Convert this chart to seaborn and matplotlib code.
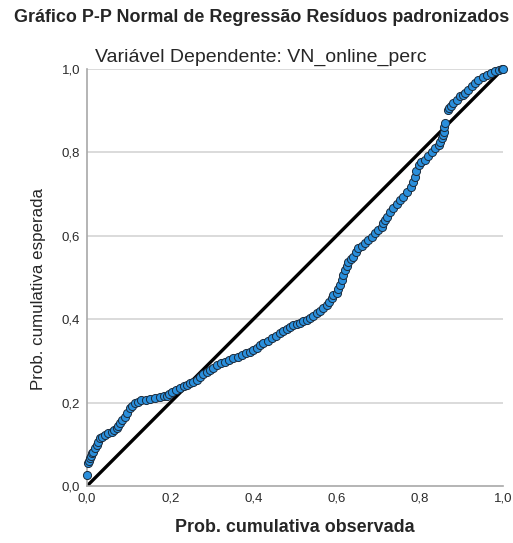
import matplotlib
matplotlib.use("Agg")
import matplotlib.pyplot as plt
import seaborn as sns
import pandas as pd

# ── Data ──────────────────────────────────────────────────────────────────
obs_prob = [
    0.000, 0.003, 0.005, 0.007, 0.010, 0.013, 0.015, 0.019, 0.023, 0.027,
    0.031, 0.037, 0.043, 0.051, 0.059, 0.065, 0.071, 0.075, 0.079, 0.085,
    0.091, 0.097, 0.103, 0.109, 0.115, 0.123, 0.131, 0.141, 0.151, 0.163,
    0.175, 0.184, 0.192, 0.198, 0.204, 0.214, 0.224, 0.232, 0.240, 0.248,
    0.256, 0.264, 0.272, 0.280, 0.288, 0.296, 0.304, 0.312, 0.322, 0.332,
    0.342, 0.352, 0.362, 0.372, 0.382, 0.392, 0.400, 0.408, 0.416, 0.424,
    0.434, 0.444, 0.454, 0.464, 0.472, 0.480, 0.488, 0.496, 0.504, 0.512,
    0.520, 0.528, 0.536, 0.544, 0.552, 0.560, 0.568, 0.576, 0.582, 0.588,
    0.592, 0.600, 0.604, 0.608, 0.612, 0.616, 0.620, 0.624, 0.628, 0.634,
    0.640, 0.646, 0.652, 0.660, 0.668, 0.676, 0.684, 0.692, 0.700, 0.708,
    0.712, 0.716, 0.720, 0.728, 0.736, 0.744, 0.752, 0.760, 0.769, 0.778,
    0.784, 0.788, 0.792, 0.797, 0.804, 0.812, 0.820, 0.829, 0.837, 0.845,
    0.849, 0.853, 0.855, 0.857, 0.859, 0.861, 0.867, 0.869, 0.875, 0.881,
    0.889, 0.897, 0.903, 0.909, 0.917, 0.925, 0.933, 0.941, 0.951, 0.961,
    0.971, 0.981, 0.990, 0.997, 1.000,
]
exp_prob = [
    0.026, 0.054, 0.060, 0.066, 0.072, 0.078, 0.082, 0.090, 0.098, 0.106,
    0.114, 0.118, 0.122, 0.126, 0.130, 0.134, 0.138, 0.144, 0.150, 0.158,
    0.166, 0.176, 0.186, 0.192, 0.198, 0.202, 0.205, 0.207, 0.208, 0.211,
    0.213, 0.215, 0.216, 0.221, 0.226, 0.230, 0.234, 0.239, 0.242, 0.246,
    0.250, 0.254, 0.262, 0.268, 0.274, 0.278, 0.284, 0.290, 0.294, 0.298,
    0.302, 0.306, 0.310, 0.314, 0.318, 0.322, 0.327, 0.332, 0.337, 0.342,
    0.348, 0.354, 0.360, 0.366, 0.371, 0.376, 0.381, 0.386, 0.389, 0.392,
    0.395, 0.398, 0.403, 0.408, 0.414, 0.420, 0.427, 0.434, 0.442, 0.450,
    0.458, 0.462, 0.472, 0.482, 0.494, 0.506, 0.518, 0.528, 0.538, 0.544,
    0.550, 0.560, 0.570, 0.576, 0.583, 0.590, 0.598, 0.606, 0.614, 0.622,
    0.630, 0.638, 0.646, 0.656, 0.666, 0.676, 0.686, 0.694, 0.704, 0.718,
    0.730, 0.742, 0.756, 0.770, 0.776, 0.782, 0.792, 0.802, 0.810, 0.818,
    0.826, 0.834, 0.842, 0.850, 0.860, 0.870, 0.902, 0.906, 0.912, 0.918,
    0.926, 0.934, 0.938, 0.942, 0.950, 0.958, 0.966, 0.974, 0.980, 0.986,
    0.990, 0.994, 0.997, 1.000, 1.000,
]
diag = [0.0, 1.0]
ticks = [0.0, 0.2, 0.4, 0.6, 0.8, 1.0]
tick_labels = ["0,0", "0,2", "0,4", "0,6", "0,8", "1,0"]

title = "Gráfico P-P Normal de Regressão Resíduos padronizados"
subtitle = "Variável Dependente: VN_online_perc"
xlabel = "Prob. cumulativa observada"
ylabel = "Prob. cumulativa esperada"

# ── Style ─────────────────────────────────────────────────────────────────
sns.set_style("white")
plt.rcParams["font.family"] = ["Liberation Sans", "DejaVu Sans"]

df = pd.DataFrame({"obs": obs_prob, "exp": exp_prob})

fig = plt.figure(figsize=(5.13, 5.43), dpi=100)
ax = fig.add_axes([0.1696, 0.105, 0.8109, 0.768])

for t in ticks[1:]:
    ax.axhline(t, color="#d4d4d4", linewidth=1.2, zorder=0)

ax.plot(diag, diag, color="black", linewidth=2.4, zorder=2,
        solid_capstyle="butt")

sns.scatterplot(
    data=df, x="obs", y="exp", ax=ax,
    s=34, color="#2a8fdc", edgecolor="#1b2b3c", linewidth=0.7,
    zorder=3, clip_on=False,
)

ax.set_xlim(0, 1)
ax.set_ylim(0, 1)
ax.set_xticks(ticks)
ax.set_xticklabels(tick_labels)
ax.set_yticks(ticks)
ax.set_yticklabels(tick_labels)
ax.tick_params(axis="both", labelsize=9.5, labelcolor="#2b2b2b", length=3,
               width=0.8, pad=2, color="#aaaaaa")
ax.tick_params(axis="x", length=0, pad=5)

for side in ["top", "right"]:
    ax.spines[side].set_visible(False)
for side in ["left", "bottom"]:
    ax.spines[side].set_color("#a8a8a8")
    ax.spines[side].set_linewidth(1.2)

# ── Axis labels (placed in axes fraction to match the reference) ─────────
ax.set_xlabel(xlabel, fontsize=12.9, fontweight="bold", va="center")
ax.xaxis.set_label_coords(0.5, -0.1007)
ax.set_ylabel(ylabel, fontsize=12.2, va="center")
ax.yaxis.set_label_coords(-0.1166, 0.472)

# ── Titles ────────────────────────────────────────────────────────────────
fig.text(261.5 / 513, 1 - 17 / 543, title, ha="center", va="center",
         fontsize=12.9, fontweight="bold")
fig.text(261 / 513, 1 - 57 / 543, subtitle, ha="center", va="center",
         fontsize=14)

fig.savefig("out.png", dpi=100)
plt.close(fig)
